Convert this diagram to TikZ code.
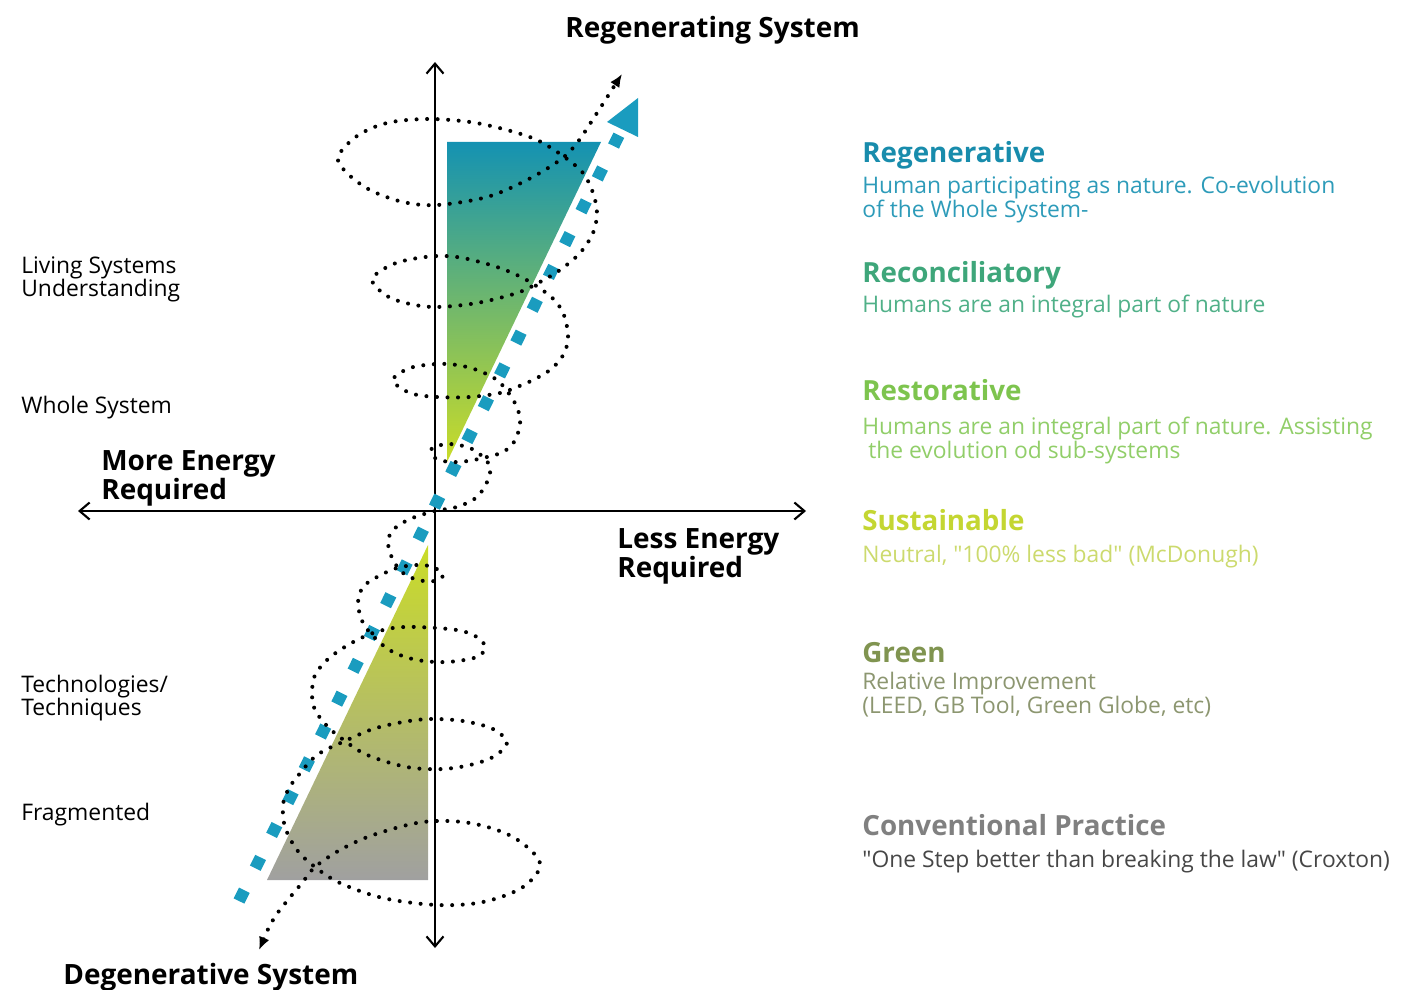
\documentclass[tikz,border=0pt]{standalone}
\usepackage{fontspec}
\setmainfont{Open Sans}
\usepackage{tikz}
\usetikzlibrary{arrows.meta,positioning}
\definecolor{sqblue}{RGB}{26,156,191}
\definecolor{triteal}{RGB}{20,146,178}
\definecolor{trigreen}{RGB}{90,180,110}
\definecolor{triyellow}{RGB}{202,220,40}
\definecolor{trigray}{RGB}{160,160,160}
\definecolor{regblue}{RGB}{24,140,172}
\definecolor{regbluetxt}{RGB}{45,155,185}
\definecolor{recgreen}{RGB}{62,166,122}
\definecolor{recgreentxt}{RGB}{80,176,136}
\definecolor{resgreen}{RGB}{125,196,78}
\definecolor{resgreentxt}{RGB}{145,206,105}
\definecolor{susyellow}{RGB}{196,214,50}
\definecolor{susyellowtxt}{RGB}{204,218,110}
\definecolor{olive}{RGB}{128,148,80}
\definecolor{olivetxt}{RGB}{140,150,112}
\definecolor{convgray}{RGB}{128,128,128}
\definecolor{convgraytxt}{RGB}{70,70,70}

\begin{document}
\begin{tikzpicture}[
    x=0.02cm, y=-0.02cm,
    axis/.style={line width=1.2pt,
        {Straight Barb[length=2mm,width=3.4mm]}-{Straight Barb[length=2mm,width=3.4mm]}},
    spiral/.style={line width=2.3pt, line cap=round, dash pattern=on 0pt off 6pt,
        {Latex[length=2.6mm,width=2.2mm]}-{Latex[length=2.6mm,width=2.2mm]}},
    squares/.style={draw=sqblue, line width=0.24cm, dash pattern=on 0.24cm off 0.493cm},
    lbl/.style={anchor=base west, inner sep=0pt, align=left,
        font=\fontsize{13}{13}\selectfont},
    big/.style={anchor=base west, inner sep=0pt, align=left,
        font=\bfseries\fontsize{15.9}{16.4}\selectfont},
    head/.style={anchor=base west, inner sep=0pt, text=#1,
        font=\bfseries\fontsize{15.8}{18}\selectfont},
    desc/.style={anchor=base west, inner sep=0pt, align=left, text=#1,
        font=\fontsize{13}{13.6}\selectfont}
]
\useasboundingbox (0,0) rectangle (1403,990);

% Axes
\coordinate (ytop) at (435,62);
\coordinate (ybot) at (435,948);
\coordinate (xleft) at (78,511);
\coordinate (xright) at (806,511);
\draw[axis] (ybot) -- (ytop);
\draw[axis] (xleft) -- (xright);

% Triangles
\shade[top color=triteal, middle color=trigreen, bottom color=triyellow]
    (447,142) -- (601,142) -- (447,462) -- cycle;
\shade[top color=triyellow, bottom color=trigray]
    (428,545) -- (428,880) -- (267,880) -- cycle;

% Blue trend
\coordinate (bstart) at (239,901);
\coordinate (bend) at (619,135);
\draw[squares] (bstart) -- (bend);
\fill[sqblue] (638,98) -- (607,122) -- (638,137) -- cycle;

% Spiral
\draw[spiral] plot[smooth, tension=0.55] coordinates {
    (259,950) (273,920) (287,901) (302,883) (315,867) (340,850) (373,835)
    (423,822) (470,823) (513,837) (540,863) (523,887) (483,902) (437,905)
    (383,898) (340,883) (315,867) (297,850) (285,827) (283,805) (288,790)
    (297,777) (317,755) (345,741) (373,729) (403,722) (430,719) (463,721)
    (493,729) (507,743) (493,757) (470,765) (443,769) (413,768) (387,762)
    (363,753) (345,741) (328,727) (315,710) (312,693) (315,675) (327,660)
    (340,650) (357,640) (373,633) (393,628) (417,627) (457,630) (477,637)
    (485,647) (477,657) (447,662) (417,660) (393,652) (377,640) (363,623)
    (358,603) (363,587) (377,577) (397,568) (417,565) (433,567) (443,575)
    (435,581) (418,580) (403,573) (393,560) (388,543) (393,530) (410,519)
    (435,511) (457,507) (477,497) (488,480) (490,467) (483,457) (470,448)
    (450,444) (432,448) (435,458) (450,462) (468,461) (487,457) (503,452)
    (514,442) (520,425) (518,410) (510,395) (497,380) (477,370) (457,365)
    (437,364) (410,368) (393,380) (410,393) (437,397) (470,397) (500,393)
    (517,387) (533,380) (550,370) (562,357) (568,340) (565,318) (557,303)
    (545,292) (523,278) (497,267) (463,258) (437,256) (407,260) (387,267)
    (372,280) (387,296) (410,304) (437,307) (477,303) (517,293) (540,282)
    (560,270) (580,253) (593,233) (597,213) (593,193) (583,173) (563,156)
    (537,140) (507,130) (470,122) (427,119) (387,123) (357,136) (338,157)
    (347,173) (370,190) (403,202) (437,205) (487,197) (527,180) (560,160)
    (577,143) (597,113) (613,88) (622,74)};

% Axis labels
\node[big] (regsys) at (565,38) {Regenerating System};
\node[big] (degsys) at (63,984) {Degenerative System};
\node[big] (more) at (101,499) {More Energy\\Required};
\node[big] (less) at (617,577) {Less Energy\\Required};

% Left labels
\node[lbl] (living) at (21,296) {Living Systems\\Understanding};
\node[lbl] (whole) at (21,413) {Whole System};
\node[lbl] (tech) at (21,715) {Technologies/\\Techniques};
\node[lbl] (frag) at (21,820) {Fragmented};

% Levels
\node[head=regblue] (regen) at (862,162) {Regenerative};
\node[desc=regbluetxt] (regen-t) at (862,217) {Human participating as nature. Co-evolution\\of the Whole System-};
\node[head=recgreen] (recon) at (862,282) {Reconciliatory};
\node[desc=recgreentxt] (recon-t) at (862,312) {Humans are an integral part of nature};
\node[head=resgreen] (resto) at (862,400) {Restorative};
\node[desc=resgreentxt] (resto-t) at (862,458) {Humans are an integral part of nature. Assisting\\\ the evolution od sub-systems};
\node[head=susyellow] (sust) at (862,530) {Sustainable};
\node[desc=susyellowtxt] (sust-t) at (862,562) {Neutral, \textquotedbl 100\% less bad\textquotedbl\ (McDonugh)};
\node[head=olive] (green) at (862,662) {Green};
\node[desc=olivetxt] (green-t) at (862,713) {Relative Improvement\\(LEED, GB Tool, Green Globe, etc)};
\node[head=convgray] (conv) at (862,835) {Conventional Practice};
\node[desc=convgraytxt] (conv-t) at (862,867) {\textquotedbl One Step better than breaking the law\textquotedbl\ (Croxton)};
\end{tikzpicture}
\end{document}
